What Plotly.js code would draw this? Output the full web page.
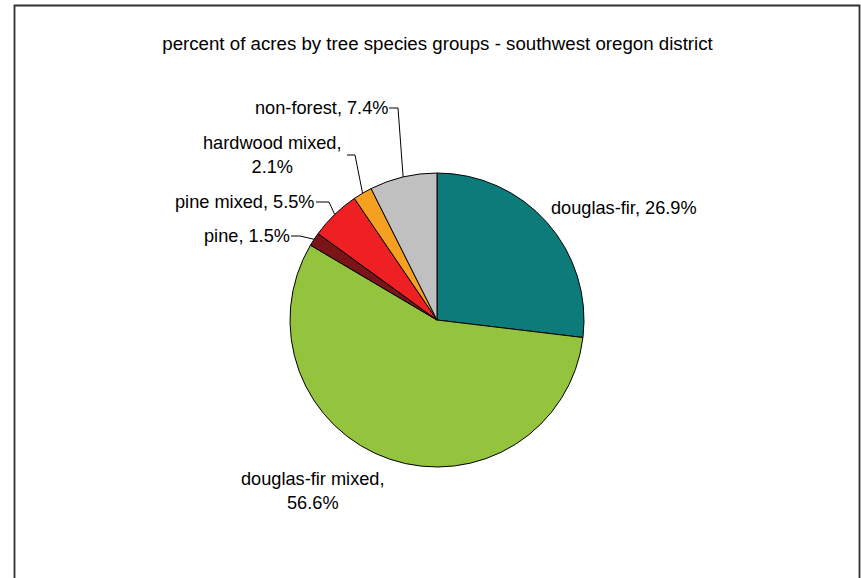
<!DOCTYPE html>
<html>
<head>
<meta charset="utf-8">
<script src="https://cdn.plot.ly/plotly-3.0.1.min.js"></script>
<style>html,body{margin:0;padding:0;background:#fff}#chart{width:861px;height:578px}</style>
</head>
<body>
<div id="chart"></div>
<script>
// ---- data ----
const categories = ["douglas-fir", "douglas-fir mixed", "pine", "pine mixed", "hardwood mixed", "non-forest"];
const percents = [26.9, 56.6, 1.5, 5.5, 2.1, 7.4];
const colors = ["#0E7B7B", "#94C43D", "#7B1416", "#EE2024", "#F5A020", "#C0C0C0"];

// ---- layout (pixels) ----
const W = 861, H = 578;
const cx = 437, cy = 320, R = 147;
const FS = 18.2;
// label anchor positions and alignment
const labelX = [550, 313, 291, 316, 272, 389];
const labelY = [208, 491, 236, 202, 155, 108];
const labelAnchor = ["left", "center", "right", "right", "center", "right"];
const labelBreak = [false, true, false, false, true, false];
const leaderDx = [0, 0, 9, 13, 8, 9];
const leaderStartX = [0, 0, 291, 316, 347, 389];

const px = x => x / W;
const py = y => 1 - y / H;

const total = percents.reduce((a, b) => a + b, 0);
let cum = 0;
const annotations = [];
const shapes = [];
categories.forEach((c, i) => {
  const mid = (cum + percents[i] / 2) / total * 2 * Math.PI;
  cum += percents[i];
  const txt = c + "," + (labelBreak[i] ? "<br>" : " ") + percents[i].toFixed(1) + "%";
  annotations.push({
    xref: "paper", yref: "paper", x: px(labelX[i]), y: py(labelY[i]),
    xanchor: labelAnchor[i], yanchor: "middle", align: "center",
    text: txt, showarrow: false, borderpad: 0,
    font: {family: "Liberation Sans, Arial, sans-serif", size: FS, color: "#000"}
  });
  if (leaderDx[i] > 0) {
    const ex = cx + R * Math.sin(mid), ey = cy - R * Math.cos(mid);
    const sx = leaderStartX[i], sy = labelY[i];
    const bx = sx + leaderDx[i];
    shapes.push({
      type: "path", xref: "paper", yref: "paper",
      path: `M ${px(sx)},${py(sy)} L ${px(bx)},${py(sy)} L ${px(ex)},${py(ey)}`,
      line: {color: "#000", width: 1}
    });
  }
});

// outer frame
shapes.push({
  type: "rect", xref: "paper", yref: "paper",
  x0: px(14.5), x1: px(859.5), y0: py(600), y1: py(5.5),
  line: {color: "#303030", width: 1.8}, fillcolor: "rgba(0,0,0,0)", layer: "below"
});

const trace = {
  type: "pie",
  labels: categories,
  values: percents,
  marker: {colors: colors, line: {color: "#000", width: 1}},
  sort: false,
  direction: "clockwise",
  rotation: 0,
  textinfo: "none",
  hoverinfo: "label+percent",
  showlegend: false,
  domain: {x: [(cx - R) / W, (cx + R) / W], y: [1 - (cy + R) / H, 1 - (cy - R) / H]}
};

const layout = {
  width: W, height: H,
  margin: {l: 0, r: 0, t: 0, b: 0},
  paper_bgcolor: "#fff",
  title: {
    text: "percent of acres by tree species groups - southwest oregon district",
    x: px(437.5), xanchor: "center", y: py(43), yanchor: "middle",
    font: {family: "Liberation Sans, Arial, sans-serif", size: 18.7, color: "#000"}
  },
  annotations: annotations,
  shapes: shapes,
  showlegend: false
};

Plotly.newPlot("chart", [trace], layout, {displayModeBar: false, staticPlot: true});
</script>
</body>
</html>
